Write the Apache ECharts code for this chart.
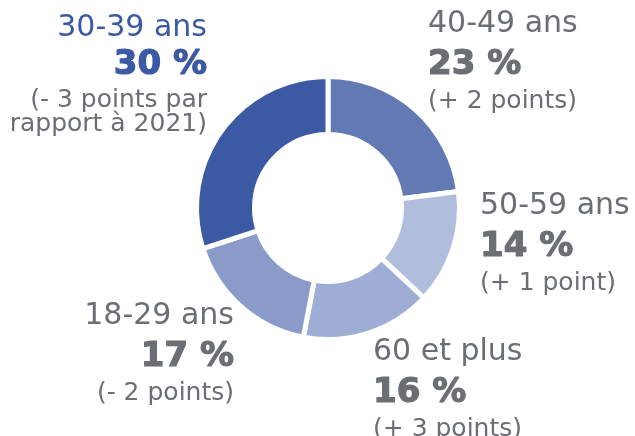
<html lang="fr">
<head>
    <meta charset="UTF-8">
    <title>Répartition par âge</title>
    <script src="https://cdn.jsdelivr.net/npm/echarts@6/dist/echarts.min.js"></script>
</head>
<style>
    body { margin: 0; background: #ffffff; }
</style>
<body>
    <div id="Chart1" style="width: 635px; height: 436px;"></div>
</body>
<script>

// data, clockwise from 12 o'clock
const ageGroups = ['40-49 ans', '50-59 ans', '60 et plus', '18-29 ans', '30-39 ans'];
const shares = [23, 14, 16, 17, 30];
const changes = ['(+ 2 points)', '(+ 1 point)', '(+ 3 points)', '(- 2 points)', '(- 3 points par\nrapport à 2021)'];

// style
const sliceColors = ['#6379b4', '#b1bddc', '#9dadd4', '#8a9bc9', '#3c59a4'];
const labelColors = ['#6b6e73', '#6b6e73', '#6b6e73', '#6b6e73', '#3c59a4'];
const noteColor = '#6b6e73';
// label block anchor [x, top, align]
const labelPos = [
    [428, 7, 'left'],
    [480, 189, 'left'],
    [373, 335, 'left'],
    [234, 299, 'right'],
    [207, 14, 'right']
];

let myChart1 = echarts.init(document.getElementById('Chart1'));

let data = [];
for (var i = 0; i < ageGroups.length; i++) {
    let rich = {
        n: { color: labelColors[i] },
        p: { color: labelColors[i], textBorderColor: labelColors[i] }
    };
    // the 30-39 block is set a bit tighter
    if (i == 4) {
        rich.n.lineHeight = 29;
        rich.p.lineHeight = 45;
    }
    data.push({
        name: ageGroups[i],
        value: shares[i],
        note: changes[i],
        itemStyle: { color: sliceColors[i] },
        label: { rich: rich }
    });
}

var option = {
    backgroundColor: '#ffffff',
    series: [
        {
            type: 'pie',
            center: [328, 208],
            radius: [73.5, 131.5],
            startAngle: 90,
            clockwise: true,
            avoidLabelOverlap: false,
            silent: true,
            itemStyle: {
                borderColor: '#ffffff',
                borderWidth: 5
            },
            labelLine: { show: false },
            label: {
                show: true,
                position: 'outside',
                fontFamily: 'DejaVu Sans',
                formatter: function (p) {
                    let notes = p.data.note.split('\n').map(function (s) { return '{c|' + s + '}'; });
                    return '{n|' + p.name + '}\n{p|' + p.value + ' %}\n' + notes.join('\n');
                },
                rich: {
                    n: { fontFamily: 'DejaVu Sans', fontSize: 30, lineHeight: 35 },
                    p: { fontFamily: 'DejaVu Sans', fontSize: 34, fontWeight: 'bold', lineHeight: 47, textBorderWidth: 1.2 },
                    c: { fontFamily: 'DejaVu Sans', fontSize: 25, lineHeight: 24, color: noteColor }
                }
            },
            labelLayout: function (params) {
                let pos = labelPos[params.dataIndex];
                return {
                    x: pos[0],
                    y: pos[1],
                    align: pos[2],
                    verticalAlign: 'top'
                };
            },
            data: data
        }
    ]
};
myChart1.setOption(option);

</script>
</html>
